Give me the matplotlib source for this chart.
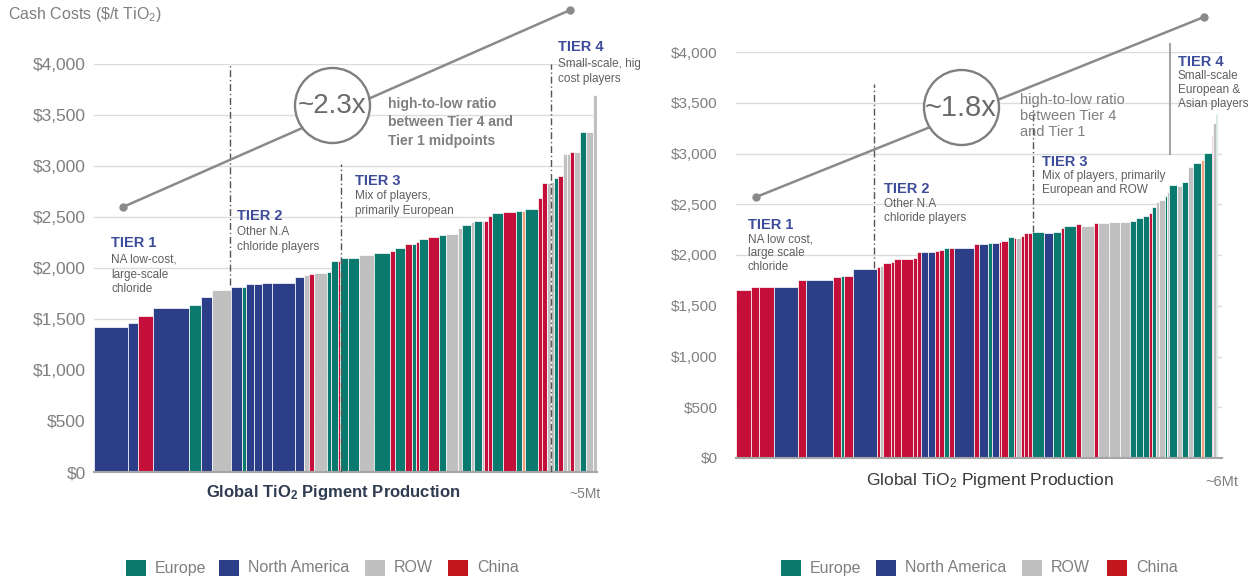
import matplotlib
matplotlib.use("Agg")
import matplotlib.pyplot as plt
import numpy as np
from matplotlib.patches import Rectangle
from matplotlib.transforms import Bbox, TransformedBbox

# ---------------- data ----------------
# Left panel (~5 Mt): production per plant (kt), cash cost ($/t), region
left_regions = ['N', 'N', 'C', 'N', 'E', 'N', 'R', 'N', 'E', 'N', 'N', 'N', 'N', 'N', 'R', 'C', 'R', 'E',
                'E', 'C', 'E', 'E', 'R', 'E', 'C', 'E', 'C', 'E', 'C', 'E', 'C', 'E', 'R', 'R', 'E', 'R',
                'E', 'R', 'C', 'C', 'E', 'C', 'E', 'X', 'E', 'C', 'C', 'R', 'R', 'E', 'C', 'R', 'R', 'C',
                'R', 'E', 'R', 'R']
left_capacity = [340, 100, 150, 360, 120, 110, 190, 110, 40, 80, 80, 100, 230, 90, 50, 50, 130, 40,
                 70, 20, 80, 110, 150, 160, 50, 100, 70, 40, 30, 90, 110, 70, 120, 40, 90, 30,
                 80, 20, 40, 40, 110, 130, 60, 30, 130, 40, 50, 40, 30, 40, 50, 40, 30, 40,
                 60, 60, 70, 40]
left_costs = [1420, 1460, 1530, 1610, 1640, 1715, 1785, 1815, 1815, 1845, 1845, 1855, 1855, 1910, 1930, 1940,
              1950, 1960, 2065, 2065, 2095, 2095, 2125, 2145, 2170, 2195, 2235, 2235, 2255, 2285, 2305, 2320,
              2330, 2390, 2420, 2450, 2460, 2460, 2460, 2510, 2540, 2550, 2560, 2560, 2580, 2685, 2830, 2835,
              2845, 2880, 2900, 3115, 3115, 3135, 3135, 3330, 3330, 3700]

# Right panel (~6 Mt)
right_regions = ['C', 'C', 'C', 'N', 'C', 'N', 'C', 'E', 'C', 'N', 'C', 'R', 'C', 'C', 'C', 'C', 'C', 'C',
                 'N', 'N', 'C', 'C', 'E', 'C', 'N', 'C', 'N', 'E', 'N', 'C', 'C', 'E', 'C', 'R', 'C', 'C',
                 'C', 'E', 'N', 'E', 'C', 'E', 'C', 'R', 'C', 'R', 'R', 'R', 'E', 'E', 'E', 'C', 'E', 'R',
                 'R', 'E', 'R', 'E', 'R', 'E', 'R', 'E', 'X', 'E', 'C', 'R', 'E']
right_capacity = [186, 99, 186, 298, 99, 335, 99, 37, 112, 298, 37, 37, 99, 37, 87, 149, 50, 50,
                  87, 87, 50, 62, 62, 62, 248, 62, 112, 50, 87, 25, 87, 74, 25, 62, 37, 50,
                  50, 149, 112, 99, 37, 149, 62, 161, 50, 136, 136, 124, 74, 87, 74, 37, 50, 37,
                  74, 25, 25, 99, 62, 74, 62, 99, 37, 99, 12, 37, 12]
right_costs = [1655, 1685, 1685, 1685, 1755, 1755, 1785, 1795, 1795, 1860, 1880, 1890, 1920, 1930, 1960, 1960,
               1970, 2030, 2030, 2030, 2040, 2045, 2070, 2070, 2070, 2110, 2110, 2120, 2115, 2130, 2140, 2175,
               2170, 2165, 2190, 2215, 2220, 2225, 2215, 2230, 2265, 2285, 2305, 2285, 2315, 2320, 2325, 2325,
               2335, 2365, 2385, 2415, 2470, 2520, 2540, 2580, 2620, 2690, 2680, 2720, 2865, 2905, 2935, 3005,
               3170, 3300, 3390]

y_ticks = [0, 500, 1000, 1500, 2000, 2500, 3000, 3500, 4000]
y_labels = ['$0', '$500', '$1,000', '$1,500', '$2,000', '$2,500', '$3,000', '$3,500', '$4,000']

legend_names = ['Europe', 'North America', 'ROW', 'China']
legend_keys = ['E', 'N', 'R', 'C']

# tier annotations
left_tiers = [("TIER 1", "NA low-cost,\nlarge-scale\nchloride"),
              ("TIER 2", "Other N.A\nchloride players"),
              ("TIER 3", "Mix of players,\nprimarily European"),
              ("TIER 4", "Small-scale, high-\ncost players")]
right_tiers = [("TIER 1", "NA low cost,\nlarge scale\nchloride"),
               ("TIER 2", "Other N.A\nchloride players"),
               ("TIER 3", "Mix of players, primarily\nEuropean and ROW"),
               ("TIER 4", "Small-scale\nEuropean &\nAsian players")]
left_ratio = "~2.3x"
right_ratio = "~1.8x"
left_ratio_text = "high-to-low ratio\nbetween Tier 4 and\nTier 1 midpoints"
right_ratio_text = "high-to-low ratio\nbetween Tier 4\nand Tier 1"
# trend line endpoints (kt, $/t) – midpoint comparison
left_trend_x = [290, 4760]
left_trend_y = [2598, 4529]
right_trend_x = [248, 5803]
right_trend_y = [2571, 4345]

# ---------------- style ----------------
COLORS = {'E': '#0a7a6e', 'N': '#2d3e88', 'R': '#c0c0c0', 'C': '#c40f3a', 'X': '#f2a07e'}
LEG_COLORS = {'E': '#0a7a6e', 'N': '#2d3e88', 'R': '#c0c0c0', 'C': '#c0161c'}
GRAY_TXT = '#7f7f7f'
DESC_TXT = '#5f5f5f'
TIER_TXT = '#3d4c9a'
REG = ['Liberation Sans', 'DejaVu Sans']

plt.rcParams['mathtext.default'] = 'regular'
W, H = 1255, 581
fig = plt.figure(figsize=(W / 100, H / 100), dpi=100)


def fx(x):
    return x / W


def fy(y):
    return 1 - y / H


def ftext(x, y, s, **kw):
    return fig.text(fx(x), fy(y), s, **kw)


def draw_curve(ax, caps, costs, regions, xmax, fsize, pad):
    caps = np.asarray(caps, float)
    lefts = np.concatenate([[0], np.cumsum(caps)[:-1]])
    ax.bar(lefts, costs, width=caps, align='edge',
           color=[COLORS[r] for r in regions], edgecolor='white', linewidth=0.5, zorder=2)
    ax.set_xlim(0, xmax)
    ax.set_ylim(0, 4000)
    ax.set_yticks(y_ticks)
    ax.set_yticklabels(y_labels, family=REG, fontsize=fsize, color=GRAY_TXT)
    ax.set_xticks([])
    ax.yaxis.grid(True, color='#dcdcdc', lw=1.0)
    ax.set_axisbelow(True)
    for s in ['top', 'right', 'left']:
        ax.spines[s].set_visible(False)
    ax.spines['bottom'].set_color('#a6a6a6')
    ax.spines['bottom'].set_linewidth(1.5)
    ax.tick_params(axis='y', length=0, pad=pad)


axL = fig.add_axes([fx(94), fy(472), 503 / W, 408 / H])
axR = fig.add_axes([fx(736), fy(458), 486 / W, 406 / H])

draw_curve(axL, left_capacity, left_costs, left_regions, 5030, 12.5, 6)
draw_curve(axR, right_capacity, right_costs, right_regions, 6026, 11, 13)

# tier dividers
dash = (0, (5, 2, 1, 2))
for x, y0, y1 in [(1360, 1830, 4000), (2470, 0, 3020), (4570, 0, 4000)]:
    axL.plot([x, x], [y0, y1], color='#555555', lw=1, ls=dash, zorder=3)
for x, y0, y1 in [(1711, 1870, 3680), (3683, 2230, 3480)]:
    axR.plot([x, x], [y0, y1], color='#555555', lw=1, ls=dash, zorder=3)
axR.plot([5382, 5382], [3000, 4080], color='#a6a6a6', lw=1.5, zorder=3, clip_on=False)

# trend lines + ratio circles
for ax, tx, ty, cx, cy in [(axL, left_trend_x, left_trend_y, 2380, 3598),
                           (axR, right_trend_x, right_trend_y, 2790, 3458)]:
    ax.plot(tx, ty, color='#8a8a8a', lw=1.8, marker='o', ms=5, clip_on=False, zorder=4)
    ax.plot([cx], [cy], marker='o', ms=54, mfc='white', mec='#7f7f7f', mew=1.7,
            clip_on=False, zorder=5)

ftext(332, 106, left_ratio, family=REG, fontsize=20, color='#6b6b6b', ha='center', va='center', zorder=6)
ftext(961, 108, right_ratio, family=REG, fontsize=21, color='#6b6b6b', ha='center', va='center', zorder=6)
ftext(388, 97, left_ratio_text, family=REG, fontsize=10, color=GRAY_TXT, fontweight='bold',
      ha='left', va='top', linespacing=1.4)
ftext(1020, 93, right_ratio_text, family=REG, fontsize=10.5, color=GRAY_TXT,
      ha='left', va='top', linespacing=1.2)

# tier labels
left_tier_pos = [(111, 243, 254), (237, 216, 226), (355, 181, 190), (558, 47, 58)]
right_tier_pos = [(748, 225, 233), (884, 189, 198), (1042, 162, 170), (1178, 62, 70)]
clip_left = TransformedBbox(Bbox([[0, 0], [fx(640), 1]]), fig.transFigure)
for (title, desc), (x, yt, yd) in zip(left_tiers, left_tier_pos):
    ftext(x, yt, title, family=REG, fontsize=10.5, fontweight='bold', color=TIER_TXT, va='center')
    t = ftext(x, yd, desc, family=REG, fontsize=8.5, color=DESC_TXT, va='top', linespacing=1.3)
    t.set_clip_box(clip_left)
    t.set_clip_on(True)
for (title, desc), (x, yt, yd) in zip(right_tiers, right_tier_pos):
    ftext(x, yt, title, family=REG, fontsize=10.5, fontweight='bold', color=TIER_TXT, va='center')
    ftext(x, yd, desc, family=REG, fontsize=8.5, color=DESC_TXT, va='top', linespacing=1.25)

# axis titles
ftext(8, 14, 'Cash Costs (\\$/t TiO$_2$)', family=REG, fontsize=11.5, color=GRAY_TXT, va='center')
ftext(333, 493, 'Global TiO$_2$ Pigment Production', family=REG, fontsize=12, fontweight='bold',
      color='#2f3b50', ha='center', va='center')
ftext(585, 494, '~5Mt', family=REG, fontsize=10, color=GRAY_TXT, ha='center', va='center')
ftext(990, 480, 'Global TiO$_2$ Pigment Production', family=REG, fontsize=12.5,
      color='#3a3a3a', ha='center', va='center')
ftext(1222, 482, '~6Mt', family=REG, fontsize=10.5, color=GRAY_TXT, ha='center', va='center')

# legends
for x_sq in ([126, 219, 365, 448], [781, 876, 1022, 1107]):
    for key, name, xs in zip(legend_keys, legend_names, x_sq):
        fig.add_artist(Rectangle((fx(xs), fy(576)), 20 / W, 16 / H, transform=fig.transFigure,
                                 facecolor=LEG_COLORS[key], edgecolor='none'))
        ftext(xs + 29, 568, name, family=REG, fontsize=11.5, color=GRAY_TXT, va='center')

fig.savefig('out.png', dpi=100, facecolor='white')
